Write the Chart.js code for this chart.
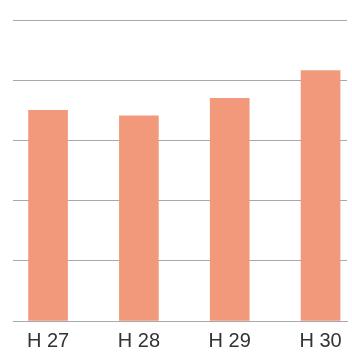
<!DOCTYPE html>
<html>
<head>
<meta charset="utf-8">
<script src="https://cdn.jsdelivr.net/npm/chart.js@4"></script>
<style>
  html, body { margin: 0; padding: 0; background: #fff; }
  #wrap { width: 352px; height: 352px; }
</style>
</head>
<body>
<div id="wrap"><canvas id="chart"></canvas></div>
<script>
// data
const categories = ['H 27', 'H 28', 'H 29', 'H 30'];
const values = [3.5, 3.41, 3.7, 4.16];
const yTicks = [0, 1, 2, 3, 4, 5];

const barColor = '#f2997b';
const gridColor = '#a9a9a9';

const points = values.map((v, i) => ({x: i, y: v}));

new Chart(document.getElementById('chart'), {
  type: 'bar',
  data: {
    datasets: [{
      data: points,
      backgroundColor: barColor,
      barThickness: 39,
    }],
  },
  options: {
    responsive: true,
    maintainAspectRatio: false,
    animation: false,
    layout: {padding: {left: 13, right: 5, top: 20, bottom: 0}},
    plugins: {legend: {display: false}, tooltip: {enabled: false}},
    scales: {
      x: {
        type: 'linear',
        offset: false,
        min: -0.386,
        max: 3.291,
        afterBuildTicks: (axis) => {
          axis.ticks = categories.map((c, i) => ({value: i}));
        },
        // keep the axis band fixed so the labels can sit lower
        afterFit: (axis) => {
          axis.height = 31;
        },
        ticks: {
          callback: (v) => categories[v],
          color: '#333',
          font: {family: 'Liberation Sans', size: 20},
          padding: 8,
          maxRotation: 0,
          autoSkip: false,
        },
        grid: {display: false, drawTicks: false, offset: false},
        border: {display: true, color: gridColor, width: 1},
      },
      y: {
        min: yTicks[0],
        max: yTicks[yTicks.length - 1],
        afterBuildTicks: (axis) => {
          axis.ticks = yTicks.map((v) => ({value: v}));
        },
        ticks: {display: false},
        grid: {color: gridColor, lineWidth: 1, drawTicks: false},
        border: {display: false},
      },
    },
  },
});
</script>
</body>
</html>
